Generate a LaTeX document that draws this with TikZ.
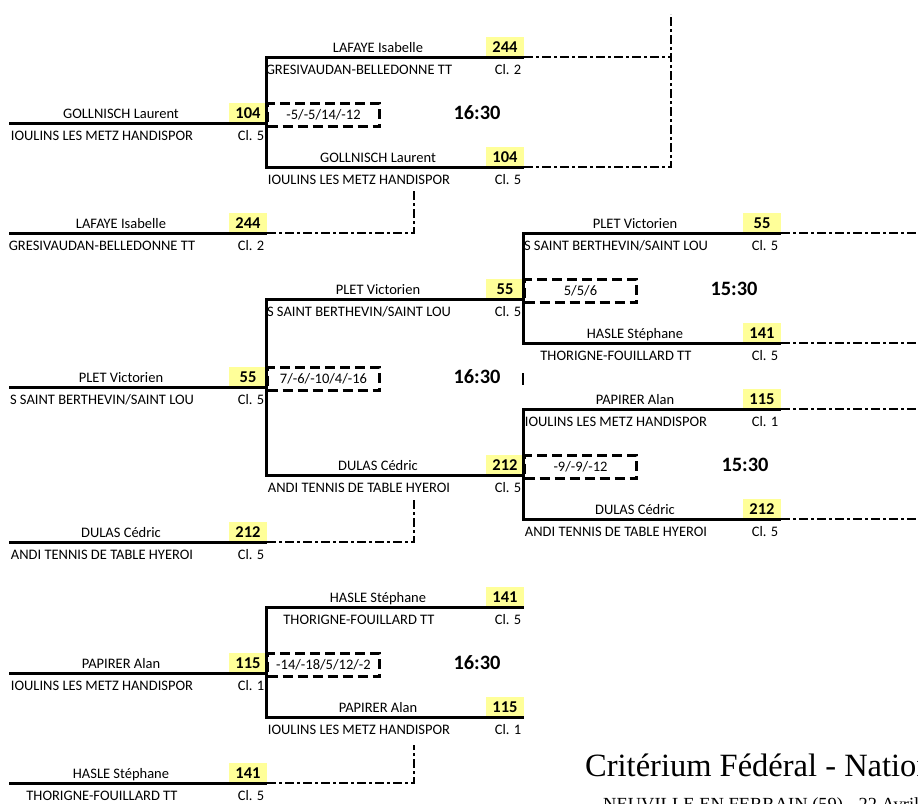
\documentclass[tikz,border=0pt]{standalone}
\usepackage{fontspec}
\setmainfont{Carlito}
\newfontfamily\titlefont{Liberation Serif}
\usetikzlibrary{positioning}
\definecolor{seedyellow}{RGB}{255,255,153}

\tikzset{
  plname/.style={anchor=base, inner sep=0pt, font=\fontsize{14.5}{16}\selectfont},
  clubname/.style={plname},
  seedbox/.style={fill=seedyellow, inner sep=0pt, minimum width=38pt, minimum height=20pt,
    font=\bfseries\fontsize{16.5}{18}\selectfont},
  setsbox/.style={draw, line width=3pt, dash pattern=on 10pt off 5pt, anchor=north west,
    minimum width=112pt, minimum height=23pt, inner sep=0pt, font=\fontsize{14.5}{16}\selectfont},
  clock/.style={anchor=base, inner sep=0pt, font=\bfseries\fontsize{20.4}{22}\selectfont},
  cellline/.style={line width=3pt},
  bracket/.style={line width=3pt, line cap=rect},
  feedline/.style={line width=2pt, dash pattern=on 9pt off 3pt on 3pt off 3pt},
}

% #1 id, #2 x, #3 y, #4 player, #5 points, #6 club, #7 class
\newcommand{\entry}[7]{%
  \coordinate (#1-w) at (#2,#3);
  \coordinate (#1-e) at (#2+258,#3);
  \node[seedbox] (#1-pts) at (#2+239,#3-10) {#5};
  \node[plname] (#1-name) at (#2+112,#3-4.5) {#4};
  \node[clubname] (#1-club) at (#2+93,#3+17) {#6};
  \node[clubname] (#1-cl) at (#2+242,#3+17) {Cl. #7};
  \draw[cellline] (#1-w) -- (#1-e);
}
% #1 id, #2 x, #3 y, #4 sets, #5 clock x, #6 time
\newcommand{\result}[6]{%
  \node[setsbox] (#1) at (#2,#3-21) {#4};
  \node[clock] (#1-time) at (#5,#3-4) {#6};
}

\begin{document}
\begin{tikzpicture}[x=1pt, y=-1pt]
  \path[use as bounding box, clip] (0,0) rectangle (918,803);

  % first round
  \entry{r1}{9}{123}{GOLLNISCH Laurent}{104}{IOULINS LES METZ HANDISPOR}{5}
  \entry{r2}{9}{233}{LAFAYE Isabelle}{244}{GRESIVAUDAN-BELLEDONNE TT}{2}
  \entry{r3}{9}{387}{PLET Victorien}{55}{S SAINT BERTHEVIN/SAINT LOU}{5}
  \entry{r4}{9}{542}{DULAS Cédric}{212}{ANDI TENNIS DE TABLE HYEROI}{5}
  \entry{r5}{9}{673}{PAPIRER Alan}{115}{IOULINS LES METZ HANDISPOR}{1}
  \entry{r6}{9}{783}{HASLE Stéphane}{141}{THORIGNE-FOUILLARD TT}{5}

  % second round
  \result{mA}{266}{123}{-5/-5/14/-12}{477}{16:30}
  \entry{a1}{266}{57}{LAFAYE Isabelle}{244}{GRESIVAUDAN-BELLEDONNE TT}{2}
  \entry{a2}{266}{167}{GOLLNISCH Laurent}{104}{IOULINS LES METZ HANDISPOR}{5}
  \draw[bracket] (a1-w) -- (a2-w);

  \result{mB}{266}{387}{7/-6/-10/4/-16}{477}{16:30}
  \entry{b1}{266}{299}{PLET Victorien}{55}{S SAINT BERTHEVIN/SAINT LOU}{5}
  \entry{b2}{266}{475}{DULAS Cédric}{212}{ANDI TENNIS DE TABLE HYEROI}{5}
  \draw[bracket] (b1-w) -- (b2-w);

  \result{mE}{266}{673}{-14/-18/5/12/-2}{477}{16:30}
  \entry{e1}{266}{607}{HASLE Stéphane}{141}{THORIGNE-FOUILLARD TT}{5}
  \entry{e2}{266}{717}{PAPIRER Alan}{115}{IOULINS LES METZ HANDISPOR}{1}
  \draw[bracket] (e1-w) -- (e2-w);

  % third round
  \result{mC}{523}{299}{5/5/6}{734}{15:30}
  \entry{c1}{523}{233}{PLET Victorien}{55}{S SAINT BERTHEVIN/SAINT LOU}{5}
  \entry{c2}{523}{343}{HASLE Stéphane}{141}{THORIGNE-FOUILLARD TT}{5}
  \draw[bracket] (c1-w) -- (c2-w);

  \result{mD}{523}{475}{-9/-9/-12}{745}{15:30}
  \entry{d1}{523}{409}{PAPIRER Alan}{115}{IOULINS LES METZ HANDISPOR}{1}
  \entry{d2}{523}{519}{DULAS Cédric}{212}{ANDI TENNIS DE TABLE HYEROI}{5}
  \draw[bracket] (d1-w) -- (d2-w);

  % dashed feeds
  \coordinate (a-up) at (671,14);
  \coordinate (r2-up) at (414,189);
  \coordinate (r4-up) at (414,498);
  \coordinate (r6-up) at (414,745);
  \coordinate (edge) at (922,0);
  \draw[feedline] (a2-e) -| (a-up);
  \draw[feedline] (a1-e) -- (a1-e -| a-up);
  \draw[feedline] (r2-e) -| (r2-up);
  \draw[feedline] (r4-e) -| (r4-up);
  \draw[feedline] (r6-e) -| (r6-up);
  \draw[feedline] (c1-e) -- (c1-e -| edge);
  \draw[feedline] (c2-e) -- (c2-e -| edge);
  \draw[feedline] (d1-e) -- (d1-e -| edge);
  \draw[feedline] (d2-e) -- (d2-e -| edge);
  \coordinate (stub-t) at (523,373);
  \coordinate (stub-b) at (523,385);
  \draw[line width=2pt] (stub-t) -- (stub-b);

  % heading
  \node[anchor=base west, inner sep=0pt, font=\titlefont\fontsize{32.5}{36}\selectfont]
    (title) at (585,776) {Critérium Fédéral - Nation};
  \node[anchor=base west, inner sep=0pt, font=\titlefont\fontsize{18.5}{20}\selectfont]
    (place) at (603,810) {NEUVILLE EN FERRAIN (59) - 22 Avril};
\end{tikzpicture}
\end{document}
